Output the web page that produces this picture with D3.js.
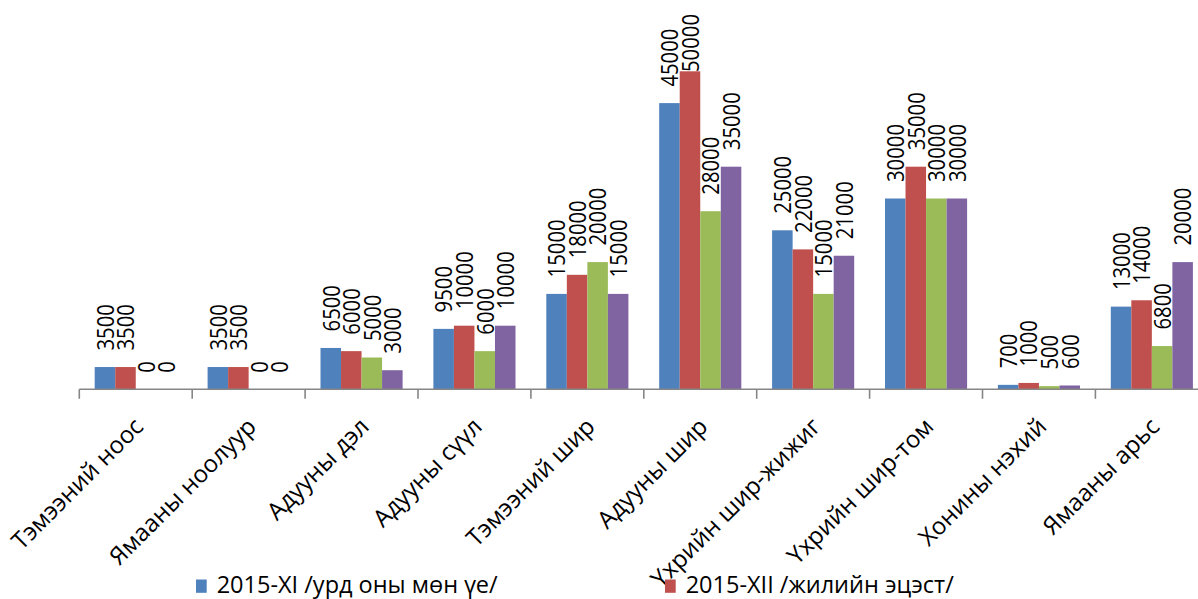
<!DOCTYPE html>
<html>
<head>
<meta charset="utf-8">
<script src="https://cdn.jsdelivr.net/npm/d3@7"></script>
<style>
html,body{margin:0;padding:0;background:#fff;overflow:hidden;}
svg{display:block;}
text{font-family:"Open Sans","Liberation Sans",sans-serif;fill:#000;}
</style>
</head>
<body>
<svg id="chart" width="1198" height="599"></svg>
<script>
const categories = ["Тэмээний ноос","Ямааны ноолуур","Адууны дэл","Адууны сүүл","Тэмээний шир","Адууны шир","Үхрийн шир-жижиг","Үхрийн шир-том","Хонины нэхий","Ямааны арьс"];
const series1 = [3500,3500,6500,9500,15000,45000,25000,30000,700,13000];
const series2 = [3500,3500,6000,10000,18000,50000,22000,35000,1000,14000];
const series3 = [0,0,5000,6000,20000,28000,15000,30000,500,6800];
const series4 = [0,0,3000,10000,15000,35000,21000,30000,600,20000];
const legendLabels = ["2015-XI /урд оны мөн үе/","2015-XII /жилийн эцэст/"];
const colors = ["#4F81BD","#C0504D","#9BBB59","#8064A2"];

const seriesValues = [series1, series2, series3, series4];
const svg = d3.select("#chart");

const baseY = 389.3;
const catStep = 112.9;
const left = 79.3;

const x0 = d3.scaleBand().domain(categories).range([left, left + catStep*categories.length]).padding(0);
const x1 = d3.scaleBand().domain(d3.range(seriesValues.length)).range([0, x0.bandwidth()]).paddingInner(0).paddingOuter(0.75);
const y = d3.scaleLinear().domain([0, 60000]).range([baseY, 7.7]);

// bars
const groups = svg.append("g").selectAll("g").data(categories).join("g")
  .attr("transform", c => `translate(${x0(c)},0)`);

groups.selectAll("rect").data((c,i) => seriesValues.map((s,k) => ({k, v: s[i]})))
  .join("rect")
  .attr("x", d => x1(d.k))
  .attr("width", x1.bandwidth())
  .attr("y", d => y(d.v))
  .attr("height", d => baseY - y(d.v))
  .attr("fill", d => colors[d.k]);

// data labels
const digitAdv = 11.6, gap = 16.5, topLimit = 14;
groups.selectAll("text.lbl").data((c,i) => seriesValues.map((s,k) => ({k, v: s[i]})))
  .join("text")
  .attr("class","lbl")
  .attr("font-size", 24.5)
  .attr("text-anchor","start")
  .attr("textLength", d => String(d.v).length*digitAdv)
  .attr("lengthAdjust","spacingAndGlyphs")
  .attr("transform", d => {
    const len = String(d.v).length*digitAdv;
    let start = y(d.v) - gap;
    if (start - len < topLimit) start = topLimit + len;
    const cx = x1(d.k) + x1.bandwidth()/2 + 8.8;
    return `translate(${cx},${start}) rotate(-90)`;
  })
  .text(d => d.v);

// axis line and ticks
svg.append("line").attr("x1", left).attr("x2", 1198).attr("y1", baseY).attr("y2", baseY)
  .attr("stroke","#868686").attr("stroke-width",1.6);
svg.append("g").selectAll("line").data(categories).join("line")
  .attr("x1", c => x0(c)).attr("x2", c => x0(c))
  .attr("y1", baseY).attr("y2", baseY + 9.5)
  .attr("stroke","#868686").attr("stroke-width",1.6);

// category labels
svg.append("g").selectAll("text").data(categories).join("text")
  .attr("font-size", 24)
  .attr("text-anchor","end")
  .attr("transform", c => `translate(${x0(c) + x0.bandwidth()/2 + 9},428) rotate(-45)`)
  .text(c => c);

// legend (only first row is visible in the frame)
const legendX = [196, 665];
const legend = svg.append("g").selectAll("g").data(legendLabels).join("g")
  .attr("transform", (d,i) => `translate(${legendX[i]},0)`);
legend.append("rect").attr("x",0).attr("y",579.5).attr("width",10.7).attr("height",13.3)
  .attr("fill", (d,i) => colors[i]);
legend.append("text").attr("x",20.7).attr("y",593.2).attr("font-size",23.5)
  .text(d => d);
</script>
</body>
</html>
